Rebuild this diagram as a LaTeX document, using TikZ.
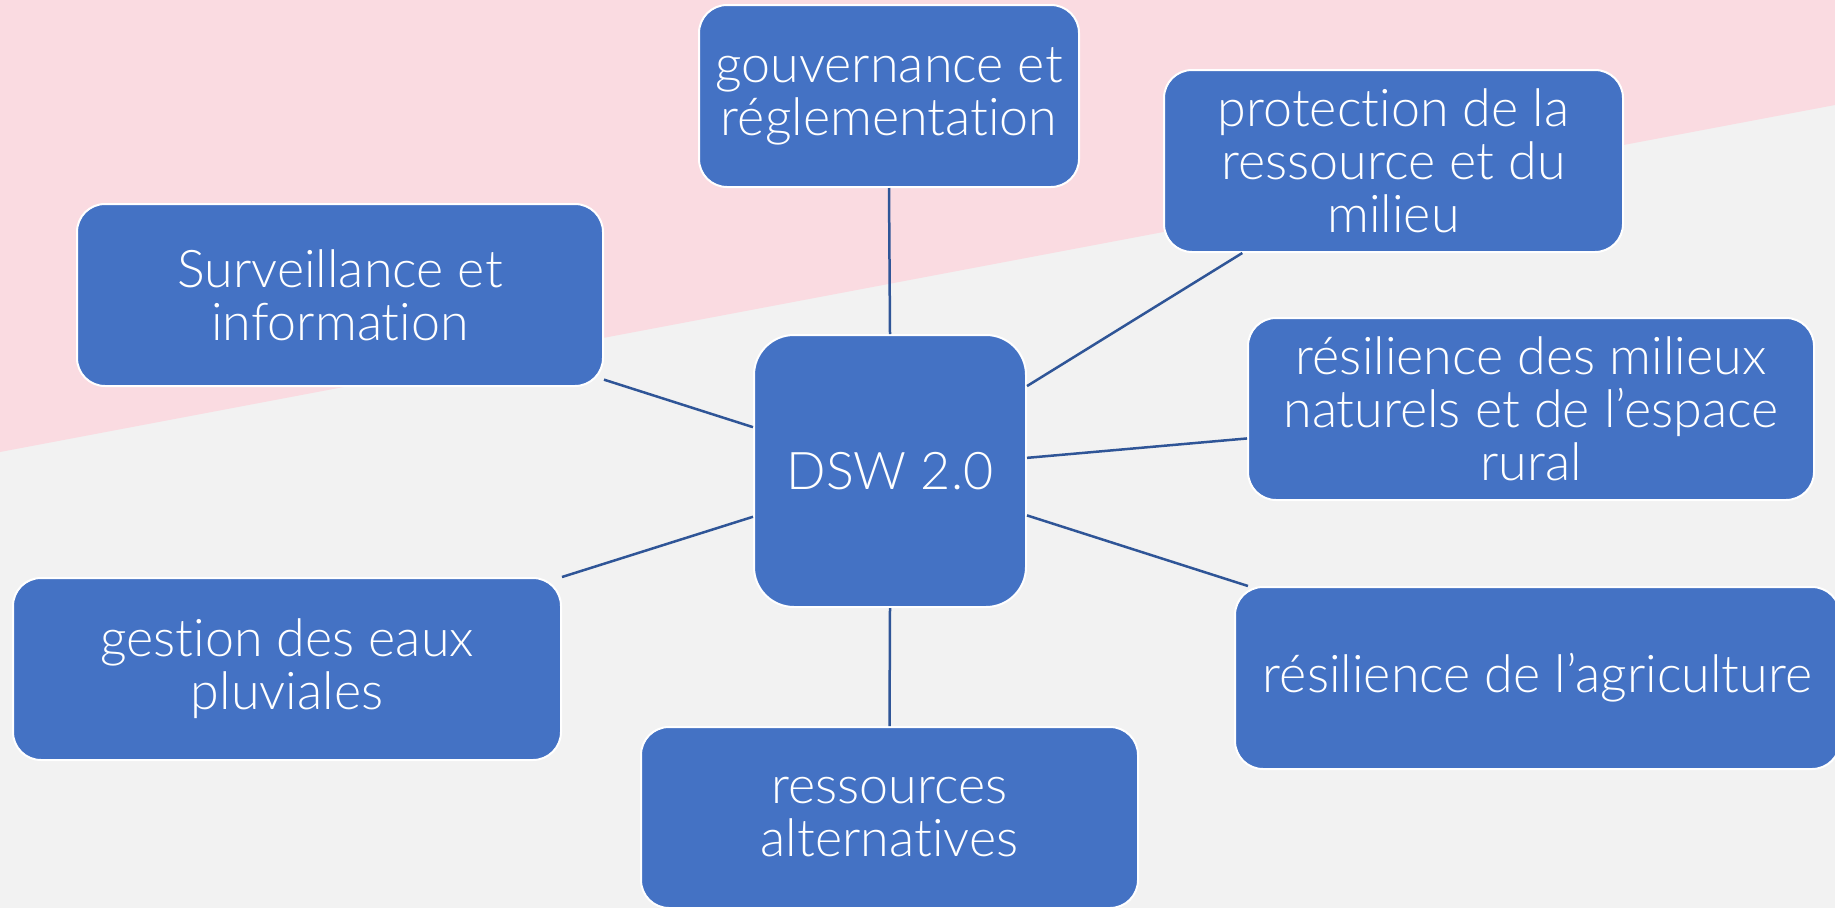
\documentclass[tikz,border=0pt]{standalone}
\usepackage{fontspec}
\setmainfont{Lato}[UprightFont=* Light, Ligatures={NoCommon,NoRequired,NoContextual}]
\usetikzlibrary{calc}
\definecolor{bgpink}{HTML}{FADBE1}
\definecolor{bggray}{HTML}{F2F2F2}
\definecolor{boxblue}{HTML}{4472C4}
\definecolor{linkblue}{HTML}{2F5597}
\begin{document}
\begin{tikzpicture}[x=1pt,y=-1pt,
  topic/.style={rectangle, rounded corners=28pt, fill=boxblue, draw=white, line width=2pt,
    text=white, align=center, font=\fontsize{52}{53}\selectfont, inner sep=0pt},
  link/.style={draw=linkblue, line width=2.5pt}]
\useasboundingbox (0,0) rectangle (1835,908);
\fill[bggray] (0,0) rectangle (1835,908);
\fill[bgpink] (0,0) -- (1835,0) -- (1835,105) -- (0,452) -- cycle;

\node[topic, minimum width=380pt, minimum height=182pt] (gov) at (889,96) {gouvernance et\\réglementation};
\node[topic, minimum width=459pt, minimum height=182pt] (prot) at (1393.5,161) {protection de la\\ressource et du\\milieu};
\node[topic, minimum width=526pt, minimum height=182pt] (surv) at (340,295) {Surveillance et\\information};
\node[topic, minimum width=272pt, minimum height=272pt, rounded corners=40pt] (dsw) at (890,471) {DSW 2.0};
\node[topic, minimum width=566pt, minimum height=182pt] (mil) at (1531,409) {résilience des milieux\\naturels et de l’espace\\rural};
\node[topic, minimum width=548pt, minimum height=182pt] (ges) at (287,669) {gestion des eaux\\pluviales};
\node[topic, minimum width=605pt, minimum height=182pt] (agri) at (1537.5,678) {résilience de l’agriculture};
\node[topic, minimum width=497pt, minimum height=181pt] (res) at (889.5,817.5) {ressources\\alternatives};

\draw[link] (gov.south) -- (dsw.north);
\draw[link] ($(dsw.north east)!0.19!(dsw.south east)$) -- ($(prot.south west)!0.172!(prot.south east)$);
\draw[link] ($(surv.north east)!0.96!(surv.south east)$) -- ($(dsw.north west)!0.34!(dsw.south west)$);
\draw[link] ($(dsw.north east)!0.452!(dsw.south east)$) -- ($(mil.north west)!0.66!(mil.south west)$);
\draw[link] ($(dsw.north east)!0.662!(dsw.south east)$) -- ($(agri.north west)!0.023!(agri.north east)$);
\draw[link] (ges.north east) -- ($(dsw.north west)!0.667!(dsw.south west)$);
\draw[link] (dsw.south) -- (res.north);
\end{tikzpicture}
\end{document}
